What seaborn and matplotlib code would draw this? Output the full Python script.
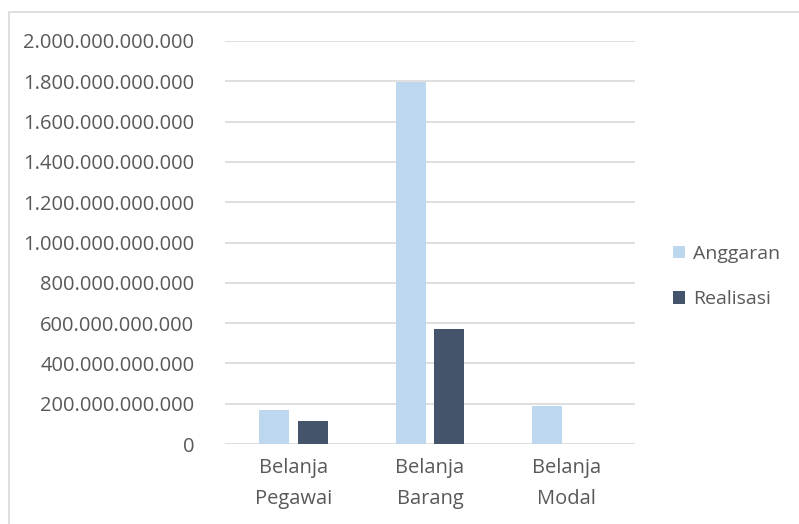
import matplotlib
matplotlib.use("Agg")
import matplotlib.pyplot as plt
import seaborn as sns
import pandas as pd
from matplotlib.patches import Rectangle
from matplotlib.ticker import FuncFormatter, MultipleLocator

categories = ["Belanja\nPegawai", "Belanja\nBarang", "Belanja\nModal"]
anggaran = [170e9, 1795e9, 190e9]
realisasi = [114e9, 570e9, 0]
series = ["Anggaran", "Realisasi"]
colors = ["#BDD7EE", "#44546A"]

df = pd.DataFrame({
    "Kategori": categories * 2,
    "Nilai": anggaran + realisasi,
    "Seri": [series[0]] * 3 + [series[1]] * 3,
})

sns.set_theme(style="white")
plt.rcParams["font.family"] = ["Open Sans", "DejaVu Sans"]

fig = plt.figure(figsize=(7.99, 5.24), dpi=100)
ax = fig.add_axes([225 / 799, 1 - 444 / 524, 410 / 799, (444 - 41) / 524])

sns.barplot(data=df, x="Kategori", y="Nilai", hue="Seri", palette=colors,
            width=0.57, gap=0.23, ax=ax, saturation=1, legend=True,
            linewidth=0, zorder=3)

ax.set_ylim(0, 2000e9)
ax.yaxis.set_major_locator(MultipleLocator(200e9))
ax.yaxis.set_major_formatter(FuncFormatter(lambda v, p: f"{int(round(v)):,}".replace(",", ".")))
ax.grid(axis="y", color="#D9D9D9", linewidth=1.2, zorder=0)
ax.set_axisbelow(True)
for s in ax.spines.values():
    s.set_visible(False)
ax.set_xlabel("")
ax.set_ylabel("")
ax.tick_params(axis="both", length=0, labelsize=14.5, colors="#595959")
ax.tick_params(axis="y", pad=22)
ax.tick_params(axis="x", pad=10)
for t in ax.get_xticklabels():
    t.set_linespacing(1.75)

leg = ax.legend(loc="center left", bbox_to_anchor=(1.05, 0.415), frameon=False,
                fontsize=14, handlelength=0.6, handleheight=0.6,
                labelspacing=1.4, handletextpad=0.45)
for t in leg.get_texts():
    t.set_color("#595959")

fig.patches.append(Rectangle((9 / 799, -0.05), 1.2, 1 - 12 / 524 + 0.05,
                             transform=fig.transFigure, fill=False,
                             edgecolor="#D9D9D9", linewidth=1.2, zorder=0))

fig.savefig("out.png", dpi=100)
